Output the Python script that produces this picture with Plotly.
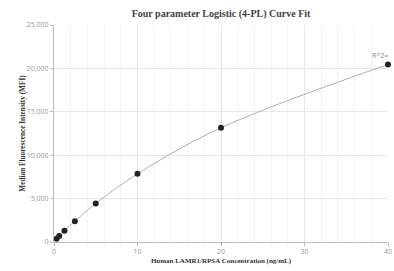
import plotly.graph_objects as go

conc = [0.3125, 0.625, 1.25, 2.5, 5, 10, 20, 40]
mfi = [380, 690, 1290, 2400, 4430, 7850, 13160, 20450]
x_ticks = [0, 10, 20, 30, 40]
y_ticks = [0, 5000, 10000, 15000, 20000, 25000]
y_tick_labels = ["0", "5,000", "10,000", "15,000", "20,000", "25,000"]

fig = go.Figure()
fig.add_trace(go.Scatter(x=conc, y=mfi, mode="lines", line=dict(color="#b0b0b0", width=1, shape="spline"),
                         hoverinfo="skip", showlegend=False))
fig.add_trace(go.Scatter(x=conc, y=mfi, mode="markers", marker=dict(color="#222222", size=6),
                         cliponaxis=False, showlegend=False))
fig.add_annotation(x=conc[-1], y=mfi[-1], text="R^2=", showarrow=False, xanchor="right", yanchor="bottom",
                   xshift=2, yshift=2, font=dict(family="Open Sans, sans-serif", size=7, color="#888"))

fig.update_layout(
    width=394, height=271,
    margin=dict(l=54, r=6, t=25, b=29, autoexpand=False),
    paper_bgcolor="white", plot_bgcolor="white",
    title=dict(text="<b>Four parameter Logistic (4-PL) Curve Fit</b>", x=0.561, xanchor="center", y=0.952,
               yanchor="middle", font=dict(family="Liberation Serif, serif", size=10, color="#444")),
    xaxis=dict(range=[0, 40], tickvals=x_ticks, showline=True, linecolor="#bbb", linewidth=1,
               ticks="outside", ticklen=3, tickcolor="#bbb", showgrid=True, gridcolor="#e6e6ef",
               minor=dict(dtick=2, showgrid=True, gridcolor="#f1f1f6"), zeroline=False, automargin=False,
               tickfont=dict(family="Open Sans, sans-serif", size=7, color="#999"),
               title=dict(text="<b>Human LAMR1/RPSA Concentration (ng/mL)</b>", standoff=2,
                          font=dict(family="Liberation Serif, serif", size=7, color="#333"))),
    yaxis=dict(range=[0, 25000], tickvals=y_ticks, ticktext=y_tick_labels, showline=True, linecolor="#bbb",
               linewidth=1, ticks="outside", ticklen=3, tickcolor="#bbb", showgrid=True, gridcolor="#e6e6ef",
               zeroline=False, automargin=False,
               tickfont=dict(family="Open Sans, sans-serif", size=7, color="#999"),
               title=dict(text="<b>Median Fluorescence Intensity (MFI)</b>", standoff=0,
                          font=dict(family="Liberation Serif, serif", size=7.3, color="#333"))),
)
fig.write_html("out.html", config={"displayModeBar": False},
               post_script="document.body.style.margin='0';document.body.style.overflow='hidden';")
